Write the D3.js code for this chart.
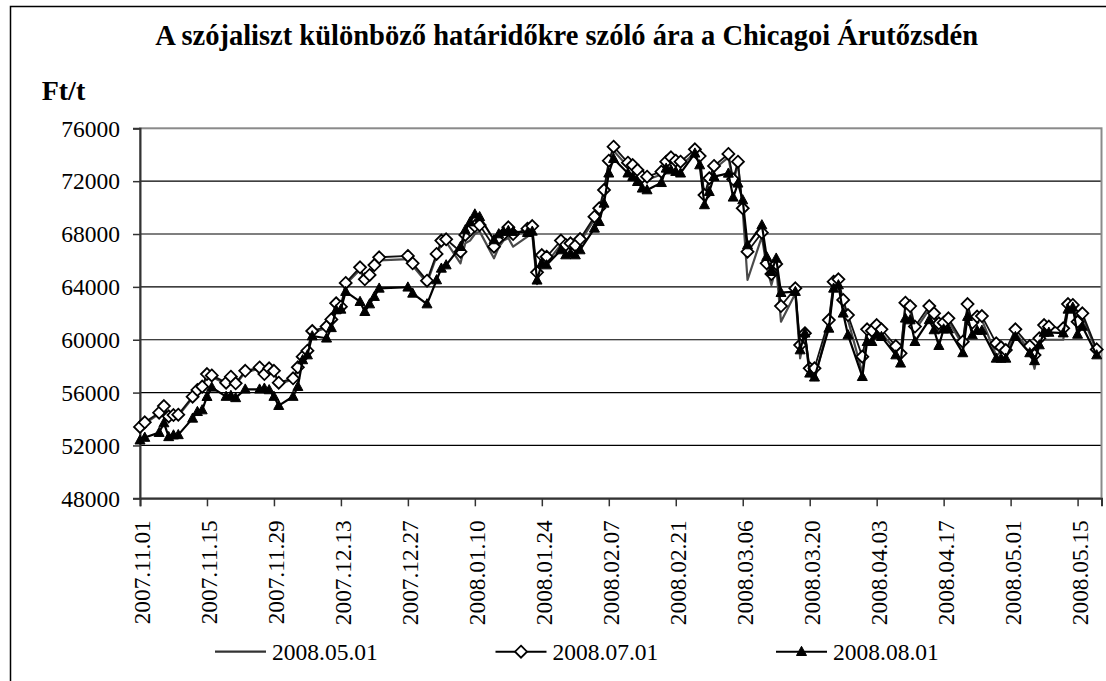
<!DOCTYPE html>
<html>
<head>
<meta charset="utf-8">
<script src="https://cdn.jsdelivr.net/npm/d3@7"></script>
<style>
  html, body { margin: 0; padding: 0; background: #fff; }
  svg { display: block; }
  text { font-family: "Liberation Serif", "Times New Roman", serif; fill: #000; }
</style>
</head>
<body>
<svg id="chart" width="1106" height="681"></svg>
<script>
const title = "A szójaliszt különböző határidőkre szóló ára a Chicagoi Árutőzsdén";
const unitLabel = "Ft/t";
const seriesNames = ["2008.05.01", "2008.07.01", "2008.08.01"];

const dates = [
  "2007.11.01","2007.11.02","2007.11.05","2007.11.06","2007.11.07","2007.11.08","2007.11.09",
  "2007.11.12","2007.11.13","2007.11.14","2007.11.15","2007.11.16","2007.11.19","2007.11.20",
  "2007.11.21","2007.11.23","2007.11.26","2007.11.27","2007.11.28","2007.11.29","2007.11.30",
  "2007.12.03","2007.12.04","2007.12.05","2007.12.06","2007.12.07","2007.12.10","2007.12.11",
  "2007.12.12","2007.12.13","2007.12.14","2007.12.17","2007.12.18","2007.12.19","2007.12.20",
  "2007.12.21","2007.12.27","2007.12.28","2007.12.31","2008.01.02","2008.01.03","2008.01.04",
  "2008.01.07","2008.01.08","2008.01.09","2008.01.10","2008.01.11","2008.01.14","2008.01.15",
  "2008.01.16","2008.01.17","2008.01.18","2008.01.21","2008.01.22","2008.01.23","2008.01.24",
  "2008.01.25","2008.01.28","2008.01.29","2008.01.30","2008.01.31","2008.02.01","2008.02.04",
  "2008.02.05","2008.02.06","2008.02.07","2008.02.08","2008.02.11","2008.02.12","2008.02.13",
  "2008.02.14","2008.02.15","2008.02.18","2008.02.19","2008.02.20","2008.02.21","2008.02.22",
  "2008.02.25","2008.02.26","2008.02.27","2008.02.28","2008.02.29","2008.03.03","2008.03.04",
  "2008.03.05","2008.03.06","2008.03.07","2008.03.10","2008.03.11","2008.03.12","2008.03.13",
  "2008.03.14","2008.03.17","2008.03.18","2008.03.19","2008.03.20","2008.03.21","2008.03.24",
  "2008.03.25","2008.03.26","2008.03.27","2008.03.28","2008.03.31","2008.04.01","2008.04.02",
  "2008.04.03","2008.04.04","2008.04.07","2008.04.08","2008.04.09","2008.04.10","2008.04.11",
  "2008.04.14","2008.04.15","2008.04.16","2008.04.17","2008.04.18","2008.04.21","2008.04.22",
  "2008.04.23","2008.04.24","2008.04.25","2008.04.28","2008.04.29","2008.04.30","2008.05.02",
  "2008.05.05","2008.05.06","2008.05.07","2008.05.08","2008.05.09","2008.05.12","2008.05.13",
  "2008.05.14","2008.05.15","2008.05.16","2008.05.19"
];

// 2008.05.01 contract (thin grey line)
const s0501 = [
  53300,53650,54400,54900,54100,54200,54250,
  55600,56100,56350,57300,57200,56650,57100,
  56600,57550,57800,57300,57750,57550,56650,
  57000,57800,58600,59100,60550,60900,61450,
  62650,62400,64200,65300,64400,64750,65450,
  66000,66100,65600,64300,66300,67300,67400,
  65780,67300,67500,68000,68200,66160,67000,
  67500,67700,67040,67800,68000,64200,65900,
  65800,67200,66900,67000,66900,67400,69100,
  69700,71100,73300,74300,73100,72900,72500,
  72100,72100,72500,73200,73500,73300,73200,
  74100,73600,70700,72000,72900,73800,71900,
  73300,69800,64520,67800,65500,64140,65500,
  61360,63500,58590,60300,57300,56950,61200,
  64100,64300,62600,61500,57500,60500,60400,
  60800,60500,59200,58700,62500,62200,60700,
  62300,61800,60500,61000,61400,59600,62400,
  61000,61500,61500,58800,59100,58900,60500,
  59200,57800,59700,60000,60000,60000,62300,
  62400,61100,61800,59100
];

// 2008.07.01 contract (diamonds)
const s0701 = [
  53400,53750,54480,54980,54200,54300,54330,
  55690,56200,56450,57400,57300,56750,57200,
  56700,57650,57900,57400,57840,57650,56750,
  57080,57910,58720,59170,60660,61000,61540,
  62760,62500,64300,65480,64570,64900,65650,
  66240,66340,65780,64470,66490,67500,67600,
  66660,67930,68300,68600,68680,67040,67680,
  68000,68510,68000,68400,68600,65100,66410,
  66280,67500,67170,67300,67120,67620,69310,
  69950,71330,73550,74610,73400,73220,72840,
  72340,72340,72720,73470,73800,73550,73470,
  74410,73900,70950,72220,73150,74060,72140,
  73470,69950,66660,68100,65780,64970,65730,
  62550,63890,59600,60490,57840,57840,61490,
  64390,64570,63010,61870,58720,60790,60680,
  61110,60790,59520,58970,62800,62550,61000,
  62550,62000,61240,61290,61620,59850,62700,
  61300,61750,61790,59730,59430,59220,60790,
  59520,58840,60110,61110,60990,60860,62700,
  62630,61360,62000,59270
];

// 2008.08.01 contract (triangles)
const s0801 = [
  52400,52600,52970,53700,52650,52780,52800,
  54050,54550,54680,55690,56400,55700,55770,
  55600,56250,56250,56320,56200,55700,55010,
  55700,56450,58470,58840,60280,60110,60900,
  62250,62300,63640,62880,62120,62700,63260,
  63890,63970,63510,62700,64520,65400,65650,
  67040,68300,68900,69500,69300,67550,68000,
  68180,68250,68180,68100,68200,64500,65780,
  65650,66790,66410,66540,66410,66790,68430,
  68930,70320,72600,73700,72600,72340,71960,
  71460,71330,71880,72970,72840,72720,72600,
  74110,73220,70200,71200,72340,72590,70780,
  71840,70570,67170,68680,66280,65150,66160,
  63560,63640,59220,60490,57460,57160,60860,
  63890,64140,62000,60360,57200,59850,59850,
  60360,60230,58840,58220,61620,61490,59850,
  61500,60740,59550,60800,60800,59000,61750,
  60360,60700,60700,58590,58590,58590,60230,
  59000,58400,59600,60550,60550,60500,62300,
  62450,60400,61000,58840
];

const yTicks = [48000, 52000, 56000, 60000, 64000, 68000, 72000, 76000];
const xTickLabels = [
  "2007.11.01","2007.11.15","2007.11.29","2007.12.13","2007.12.27","2008.01.10",
  "2008.01.24","2008.02.07","2008.02.21","2008.03.06","2008.03.20","2008.04.03",
  "2008.04.17","2008.05.01","2008.05.15"
];
const xDomain = ["2007.11.01", "2008.05.20"];

const FONT = '"Liberation Serif", "Times New Roman", serif';
const parse = d3.utcParse("%Y.%m.%d");
const svg = d3.select("#chart");

// outer chart frame (only top and left edges fall inside the picture)
svg.append("rect").attr("x", 10.5).attr("y", 6.5).attr("width", 1300).attr("height", 900)
  .attr("fill", "#fff").attr("stroke", "#000").attr("stroke-width", 1.5);

const L = 140, R = 1101.5, T = 128.3, B = 498.3;
const x = d3.scaleUtc().domain(xDomain.map(parse)).range([L, R]);
const y = d3.scaleLinear().domain([48000, 76000]).range([B, T]);

// title and unit
svg.append("text").attr("x", 566.7).attr("y", 45).attr("text-anchor", "middle")
  .style("font-family", FONT).style("font-size", "28.5px").style("font-weight", "bold")
  .text(title);
svg.append("text").attr("x", 41.7).attr("y", 100)
  .style("font-family", FONT).style("font-size", "28px").style("font-weight", "bold")
  .text(unitLabel);

// gridlines
svg.append("g").selectAll("line").data(yTicks.filter(v => v > 48000 && v < 76000)).join("line")
  .attr("x1", L).attr("x2", R).attr("y1", d => y(d)).attr("y2", d => y(d))
  .attr("stroke", "#000").attr("stroke-width", 1.2);

// plot border (grey)
svg.append("rect").attr("x", L).attr("y", T).attr("width", R - L).attr("height", B - T)
  .attr("fill", "none").attr("stroke", "#8a8a8a").attr("stroke-width", 2);

// y axis
const yAxis = d3.axisLeft(y).tickValues(yTicks).tickSize(7).tickPadding(13)
  .tickFormat(d3.format("d"));
const gy = svg.append("g").attr("transform", `translate(${L},0)`).call(yAxis);
gy.select(".domain").attr("stroke", "#333").attr("stroke-width", 2);
gy.selectAll(".tick line").attr("stroke", "#333").attr("stroke-width", 1.5);
gy.selectAll(".tick text")
  .style("font-family", FONT).style("font-size", "23.5px").style("fill", "#000")
  .attr("dy", "0.33em");

// x axis
const xAxis = d3.axisBottom(x).tickValues(xTickLabels.map(parse)).tickSize(8)
  .tickFormat(d3.utcFormat("%Y.%m.%d"));
const gx = svg.append("g").attr("transform", `translate(0,${B})`).call(xAxis);
gx.select(".domain").attr("stroke", "#333").attr("stroke-width", 2);
gx.selectAll(".tick line").attr("stroke", "#333").attr("stroke-width", 1.5);
gx.selectAll(".tick text")
  .style("font-family", FONT).style("font-size", "23.3px").style("fill", "#000")
  .attr("text-anchor", "end")
  .attr("transform", "translate(9.5,22) rotate(-90)")
  .attr("x", 0).attr("y", 0).attr("dy", 0);

// series
const pts = s => dates.map((d, i) => ({ t: parse(d), v: s[i] }));
const line = d3.line().x(d => x(d.t)).y(d => y(d.v));
const diamond = "M0,-6L6,0L0,6L-6,0Z";
const tri = "M0,-5.4L5,3.8L-5,3.8Z";

svg.append("path").datum(pts(s0501)).attr("d", line)
  .attr("fill", "none").attr("stroke", "#4a4a4a").attr("stroke-width", 2.2)
  .attr("stroke-linejoin", "round");

svg.append("path").datum(pts(s0701)).attr("d", line)
  .attr("fill", "none").attr("stroke", "#111").attr("stroke-width", 1.8)
  .attr("stroke-linejoin", "round");
svg.append("g").selectAll("path").data(pts(s0701)).join("path")
  .attr("transform", d => `translate(${x(d.t)},${y(d.v)})`).attr("d", diamond)
  .attr("fill", "#fff").attr("stroke", "#000").attr("stroke-width", 1.8);

svg.append("path").datum(pts(s0801)).attr("d", line)
  .attr("fill", "none").attr("stroke", "#000").attr("stroke-width", 2.2)
  .attr("stroke-linejoin", "round");
svg.append("g").selectAll("path").data(pts(s0801)).join("path")
  .attr("transform", d => `translate(${x(d.t)},${y(d.v)})`).attr("d", tri)
  .attr("fill", "#000").attr("stroke", "#000").attr("stroke-width", 1);

// legend
const legY = 651.7;
const legX = [215, 495.5, 776];
const leg = svg.append("g");
seriesNames.forEach((name, i) => {
  const g = leg.append("g").attr("transform", `translate(${legX[i]},${legY})`);
  g.append("line").attr("x1", 0).attr("x2", 51).attr("y1", 0).attr("y2", 0)
    .attr("stroke", i === 0 ? "#333" : "#000").attr("stroke-width", i === 0 ? 2.2 : 2);
  if (i === 1) g.append("path").attr("d", diamond).attr("transform", "translate(25.5,0)")
    .attr("fill", "#fff").attr("stroke", "#000").attr("stroke-width", 1.8);
  if (i === 2) g.append("path").attr("d", tri).attr("transform", "translate(25.5,0)")
    .attr("fill", "#000").attr("stroke", "#000").attr("stroke-width", 1);
  g.append("text").attr("x", 57).attr("y", 8.2)
    .style("font-family", FONT).style("font-size", "23.5px").text(name);
});
</script>
</body>
</html>
